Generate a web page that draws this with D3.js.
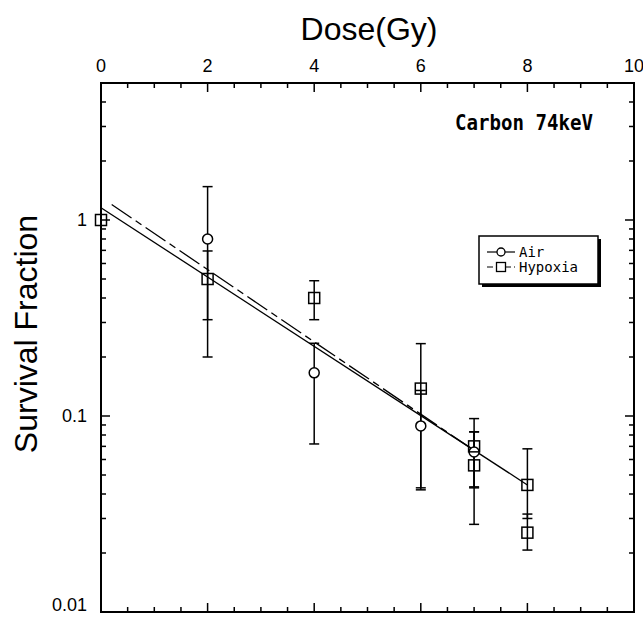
<!DOCTYPE html>
<html>
<head>
<meta charset="utf-8">
<script src="https://cdn.jsdelivr.net/npm/d3@7"></script>
<style>
  body { margin: 0; background: #fff; }
  svg { display: block; }
</style>
</head>
<body>
<div id="chart"></div>
<script>
// measured data, survival fraction vs dose
var airDose = [2, 4, 6, 7];
var airSF = [0.80, 0.166, 0.089, 0.0655];
var airLo = [0.20, 0.072, 0.043, 0.043];
var airHi = [1.48, 0.235, 0.135, 0.083];

var hypDose = [0, 2, 4, 6, 7, 7, 8, 8];
var hypSF = [1.0, 0.50, 0.40, 0.138, 0.070, 0.056, 0.0445, 0.0254];
var hypLo = [1.0, 0.31, 0.31, 0.042, 0.0435, 0.028, 0.030, 0.0207];
var hypHi = [1.0, 0.695, 0.49, 0.234, 0.097, 0.083, 0.068, 0.0316];

// fitted lines (end points)
var airFitDose = [0, 8];
var airFitSF = [1.155, 0.0445];
var hypFitDose = [0.2, 7.1];
var hypFitSF = [1.20, 0.064];

var xTickLabels = [0, 2, 4, 6, 8, 10];
var yTickLabels = [1, 0.1, 0.01];
var yLabelText = {1: "1", 0.1: "0.1", 0.01: "0.01"};

var W = 643, H = 619;
var pL = 101, pR = 634, pT = 83, pB = 612;

var svg = d3.select("#chart").append("svg")
    .attr("width", W).attr("height", H);

var x = d3.scaleLinear().domain([0, 10]).range([pL, pR]);
var y = d3.scaleLog().domain([0.01, 5]).range([pB, pT]);

var tickFont = "'Liberation Sans Narrow', 'Arial Narrow', sans-serif";
var monoFont = "'DejaVu Sans Mono', 'Liberation Mono', monospace";

// x ticks every 0.5 Gy, long at multiples of 2
var xTicks = d3.range(0, 10.01, 0.5);
function xLen(d) { return (Math.abs(d % 2) < 1e-6) ? 9 : 5; }
var yTicks = y.ticks();
function yLen(d) {
    var l = Math.log10(d);
    return (Math.abs(l - Math.round(l)) < 1e-6) ? 9 : 5;
}

var ticks = svg.append("g").attr("stroke", "#000").attr("stroke-width", 1.5);
// top and bottom
ticks.selectAll(".tt").data(xTicks).enter().append("line")
    .attr("x1", function(d) { return x(d); }).attr("x2", function(d) { return x(d); })
    .attr("y1", pT).attr("y2", function(d) { return pT + xLen(d); });
ticks.selectAll(".tb").data(xTicks).enter().append("line")
    .attr("x1", function(d) { return x(d); }).attr("x2", function(d) { return x(d); })
    .attr("y1", pB).attr("y2", function(d) { return pB - xLen(d); });
// left and right
ticks.selectAll(".tl").data(yTicks).enter().append("line")
    .attr("y1", function(d) { return y(d); }).attr("y2", function(d) { return y(d); })
    .attr("x1", pL).attr("x2", function(d) { return pL + yLen(d); });
ticks.selectAll(".tr").data(yTicks).enter().append("line")
    .attr("y1", function(d) { return y(d); }).attr("y2", function(d) { return y(d); })
    .attr("x1", pR).attr("x2", function(d) { return pR - yLen(d); });

// frame
svg.append("rect")
    .attr("x", pL).attr("y", pT)
    .attr("width", pR - pL).attr("height", pB - pT)
    .attr("fill", "none").attr("stroke", "#000").attr("stroke-width", 2);

// tick labels
svg.selectAll(".xl").data(xTickLabels).enter().append("text")
    .attr("x", function(d) { return x(d); }).attr("y", 72)
    .attr("text-anchor", "middle")
    .style("font-family", tickFont).style("font-size", "18px")
    .text(function(d) { return d; });
// bottom label sits a little above the frame corner so it stays in the window
svg.selectAll(".yl").data(yTickLabels).enter().append("text")
    .attr("x", 87).attr("y", function(d) { return Math.min(y(d), 605); })
    .attr("dy", "0.36em")
    .attr("text-anchor", "end")
    .style("font-family", tickFont).style("font-size", "18px")
    .text(function(d) { return yLabelText[d]; });

// axis titles
svg.append("text")
    .attr("x", 369).attr("y", 40)
    .attr("text-anchor", "middle")
    .style("font-family", "'Liberation Sans', Arial, sans-serif").style("font-size", "32px")
    .text("Dose(Gy)");
svg.append("text")
    .attr("transform", "translate(37,334) rotate(-90)")
    .attr("text-anchor", "middle")
    .style("font-family", "'Liberation Sans', Arial, sans-serif").style("font-size", "32px")
    .text("Survival Fraction");

// fitted lines
var line = d3.line()
    .x(function(d) { return x(d[0]); })
    .y(function(d) { return y(d[1]); });
svg.append("path")
    .attr("d", line(d3.zip(airFitDose, airFitSF)))
    .attr("fill", "none").attr("stroke", "#000").attr("stroke-width", 1.3);
svg.append("path")
    .attr("d", line(d3.zip(hypFitDose, hypFitSF)))
    .attr("fill", "none").attr("stroke", "#000").attr("stroke-width", 1.3)
    .attr("stroke-dasharray", "24,5,7,5");

// error bars
function errorBars(dose, lo, hi) {
    var rows = d3.zip(dose, lo, hi).filter(function(r) { return r[1] !== r[2]; });
    var g = svg.append("g").attr("stroke", "#000").attr("stroke-width", 1.5);
    g.selectAll(".v").data(rows).enter().append("line")
        .attr("x1", function(r) { return x(r[0]); }).attr("x2", function(r) { return x(r[0]); })
        .attr("y1", function(r) { return y(r[1]); }).attr("y2", function(r) { return y(r[2]); });
    g.selectAll(".cl").data(rows).enter().append("line")
        .attr("x1", function(r) { return x(r[0]) - 5; }).attr("x2", function(r) { return x(r[0]) + 5; })
        .attr("y1", function(r) { return y(r[1]); }).attr("y2", function(r) { return y(r[1]); });
    g.selectAll(".ch").data(rows).enter().append("line")
        .attr("x1", function(r) { return x(r[0]) - 5; }).attr("x2", function(r) { return x(r[0]) + 5; })
        .attr("y1", function(r) { return y(r[2]); }).attr("y2", function(r) { return y(r[2]); });
}
errorBars(airDose, airLo, airHi);
errorBars(hypDose, hypLo, hypHi);

// markers
svg.selectAll(".air").data(d3.zip(airDose, airSF)).enter().append("circle")
    .attr("cx", function(d) { return x(d[0]); })
    .attr("cy", function(d) { return y(d[1]); })
    .attr("r", 5)
    .attr("fill", "#fff").attr("stroke", "#000").attr("stroke-width", 1.5);
svg.selectAll(".hyp").data(d3.zip(hypDose, hypSF)).enter().append("rect")
    .attr("x", function(d) { return x(d[0]) - 5.5; })
    .attr("y", function(d) { return y(d[1]) - 5.5; })
    .attr("width", 11).attr("height", 11)
    .attr("fill", "none").attr("stroke", "#000").attr("stroke-width", 1.5);

// annotation
svg.append("text")
    .attr("x", 455).attr("y", 130)
    .attr("textLength", 138).attr("lengthAdjust", "spacingAndGlyphs")
    .style("font-family", monoFont).style("font-weight", "bold").style("font-size", "21px")
    .text("Carbon 74keV");

// legend
var lg = svg.append("g").attr("transform", "translate(479,236)");
lg.append("rect").attr("x", 3).attr("y", 3).attr("width", 119).attr("height", 48).attr("fill", "#000");
lg.append("rect").attr("x", 0).attr("y", 0).attr("width", 119).attr("height", 48)
    .attr("fill", "#fff").attr("stroke", "#000").attr("stroke-width", 1.5);
var legendItems = [
    { name: "Air", shape: "circle", dash: null },
    { name: "Hypoxia", shape: "square", dash: "6,3" }
];
legendItems.forEach(function(it, i) {
    var cy = 16 + i * 15;
    lg.append("line").attr("x1", 8).attr("x2", 36).attr("y1", cy).attr("y2", cy)
        .attr("stroke", "#000").attr("stroke-width", 1.2)
        .attr("stroke-dasharray", it.dash);
    if (it.shape === "circle") {
        lg.append("circle").attr("cx", 22).attr("cy", cy).attr("r", 4)
            .attr("fill", "#fff").attr("stroke", "#000").attr("stroke-width", 1.3);
    } else {
        lg.append("rect").attr("x", 17.5).attr("y", cy - 4.5).attr("width", 9).attr("height", 9)
            .attr("fill", "#fff").attr("stroke", "#000").attr("stroke-width", 1.3);
    }
    lg.append("text").attr("x", 40).attr("y", cy).attr("dy", "0.35em")
        .style("font-family", monoFont).style("font-size", "14px")
        .text(it.name);
});
</script>
</body>
</html>
